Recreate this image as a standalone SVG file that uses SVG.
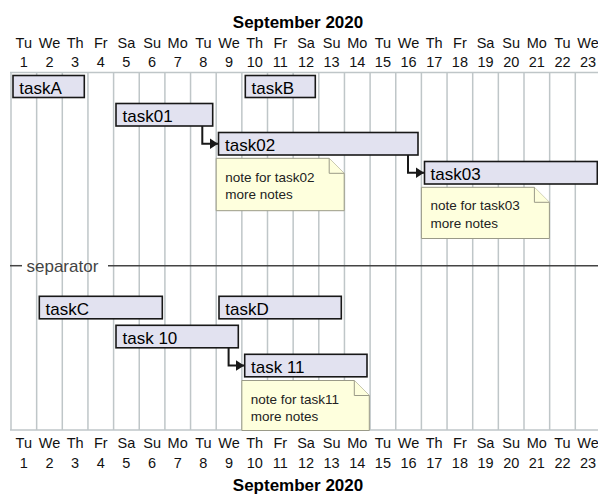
<svg xmlns="http://www.w3.org/2000/svg" width="598" height="495" viewBox="0 0 598 495">
  <style>
    .title { font-family: "Liberation Sans", Arial, sans-serif; font-size: 17px; font-weight: bold; fill: #000; text-anchor: middle; }
    .day { font-family: "Liberation Sans", Arial, sans-serif; font-size: 14.5px; fill: #111; text-anchor: middle; }
    .grid { stroke: #BFC6C8; stroke-width: 1.5; }
    .bar { fill: #E2E2F0; stroke: #181818; stroke-width: 1.6; }
    .label { font-family: "Liberation Sans", Arial, sans-serif; font-size: 17px; fill: #000; }
    .note { fill: #FEFFDD; stroke: #9A9A88; stroke-width: 1; }
    .notetext { font-family: "Liberation Sans", Arial, sans-serif; font-size: 13.5px; fill: #222; }
    .link { fill: none; stroke: #181818; stroke-width: 2; }
    .sep { stroke: #444; stroke-width: 1.5; }
    .septext { font-family: "Liberation Sans", Arial, sans-serif; font-size: 17px; fill: #444; }
  </style>
  <defs>
    <marker id="arrow" viewBox="0 0 10 10" refX="10" refY="5" markerUnits="userSpaceOnUse" markerWidth="8.5" markerHeight="11" preserveAspectRatio="none" orient="auto">
      <path d="M0,0 L10,5 L0,10 Z" fill="#181818"/>
    </marker>
  </defs>
  <rect width="598" height="495" fill="#fff"/>

  <!-- calendar header -->
  <g id="header-top">
    <text class="title" x="298" y="28">September 2020</text>
    <g class="day">
      <text x="23.8" y="48">Tu</text><text x="49.5" y="48">We</text><text x="75.1" y="48">Th</text><text x="100.8" y="48">Fr</text><text x="126.4" y="48">Sa</text><text x="152.1" y="48">Su</text><text x="177.7" y="48">Mo</text><text x="203.4" y="48">Tu</text><text x="229" y="48">We</text><text x="254.7" y="48">Th</text><text x="280.3" y="48">Fr</text><text x="306" y="48">Sa</text><text x="331.6" y="48">Su</text><text x="357.3" y="48">Mo</text><text x="382.9" y="48">Tu</text><text x="408.6" y="48">We</text><text x="434.2" y="48">Th</text><text x="459.9" y="48">Fr</text><text x="485.5" y="48">Sa</text><text x="511.2" y="48">Su</text><text x="536.8" y="48">Mo</text><text x="562.5" y="48">Tu</text><text x="588.1" y="48">We</text>
      <text x="23.8" y="66.5">1</text><text x="49.5" y="66.5">2</text><text x="75.1" y="66.5">3</text><text x="100.8" y="66.5">4</text><text x="126.4" y="66.5">5</text><text x="152.1" y="66.5">6</text><text x="177.7" y="66.5">7</text><text x="203.4" y="66.5">8</text><text x="229" y="66.5">9</text><text x="254.7" y="66.5">10</text><text x="280.3" y="66.5">11</text><text x="306" y="66.5">12</text><text x="331.6" y="66.5">13</text><text x="357.3" y="66.5">14</text><text x="382.9" y="66.5">15</text><text x="408.6" y="66.5">16</text><text x="434.2" y="66.5">17</text><text x="459.9" y="66.5">18</text><text x="485.5" y="66.5">19</text><text x="511.2" y="66.5">20</text><text x="536.8" y="66.5">21</text><text x="562.5" y="66.5">22</text><text x="588.1" y="66.5">23</text>
    </g>
  </g>

  <!-- day grid -->
  <g id="grid" class="grid">
    <line x1="10" y1="72.5" x2="598" y2="72.5"/>
    <line x1="10" y1="430" x2="598" y2="430"/>
    <line x1="11" y1="72.5" x2="11" y2="430"/>
    <line x1="36.65" y1="72.5" x2="36.65" y2="430"/>
    <line x1="62.3" y1="72.5" x2="62.3" y2="430"/>
    <line x1="87.95" y1="72.5" x2="87.95" y2="430"/>
    <line x1="113.6" y1="72.5" x2="113.6" y2="430"/>
    <line x1="139.25" y1="72.5" x2="139.25" y2="430"/>
    <line x1="164.9" y1="72.5" x2="164.9" y2="430"/>
    <line x1="190.55" y1="72.5" x2="190.55" y2="430"/>
    <line x1="216.2" y1="72.5" x2="216.2" y2="430"/>
    <line x1="241.85" y1="72.5" x2="241.85" y2="430"/>
    <line x1="267.5" y1="72.5" x2="267.5" y2="430"/>
    <line x1="293.15" y1="72.5" x2="293.15" y2="430"/>
    <line x1="318.8" y1="72.5" x2="318.8" y2="430"/>
    <line x1="344.45" y1="72.5" x2="344.45" y2="430"/>
    <line x1="370.1" y1="72.5" x2="370.1" y2="430"/>
    <line x1="395.75" y1="72.5" x2="395.75" y2="430"/>
    <line x1="421.4" y1="72.5" x2="421.4" y2="430"/>
    <line x1="447.05" y1="72.5" x2="447.05" y2="430"/>
    <line x1="472.7" y1="72.5" x2="472.7" y2="430"/>
    <line x1="498.35" y1="72.5" x2="498.35" y2="430"/>
    <line x1="524" y1="72.5" x2="524" y2="430"/>
    <line x1="549.65" y1="72.5" x2="549.65" y2="430"/>
    <line x1="575.3" y1="72.5" x2="575.3" y2="430"/>
  </g>

  <!-- separator -->
  <g id="separator">
    <line class="sep" x1="10" y1="265.7" x2="22" y2="265.7"/>
    <text class="septext" x="26.5" y="272">separator</text>
    <line class="sep" x1="108" y1="265.7" x2="598" y2="265.7"/>
  </g>

  <!-- tasks -->
  <g id="taskA"><rect class="bar" x="13" y="75.5" width="71.3" height="22"/><text class="label" x="19.3" y="93.5">taskA</text></g>
  <g id="taskB"><rect class="bar" x="245.3" y="75.5" width="70" height="22"/><text class="label" x="251.5" y="93.5">taskB</text></g>
  <g id="task01"><rect class="bar" x="116" y="103.5" width="96.7" height="22.5"/><text class="label" x="122.5" y="122">task01</text></g>
  <g id="task02"><rect class="bar" x="218.5" y="132.5" width="199.5" height="22.5"/><text class="label" x="225" y="151">task02</text></g>
  <g id="task03"><rect class="bar" x="424.5" y="161.5" width="172.8" height="22.5"/><text class="label" x="430.5" y="180">task03</text></g>
  <g id="taskC"><rect class="bar" x="39.3" y="296.3" width="123" height="22.5"/><text class="label" x="45.5" y="314.8">taskC</text></g>
  <g id="taskD"><rect class="bar" x="219" y="296.3" width="122.3" height="22.5"/><text class="label" x="225.3" y="314.8">taskD</text></g>
  <g id="task10"><rect class="bar" x="116" y="325.3" width="122.3" height="22.5"/><text class="label" x="122.5" y="343.8">task 10</text></g>
  <g id="task11"><rect class="bar" x="244.7" y="354.3" width="122.3" height="22.5"/><text class="label" x="251" y="372.8">task 11</text></g>

  <!-- notes -->
  <g id="note-task02">
    <path class="note" d="M216.2,158.3 L329.2,158.3 L344.2,173.3 L344.2,210.7 L216.2,210.7 Z"/>
    <path class="note" d="M329.2,158.3 L329.2,173.3 L344.2,173.3"/>
    <text class="notetext" x="225.2" y="181.5">note for task02</text>
    <text class="notetext" x="225.2" y="198.5">more notes</text>
  </g>
  <g id="note-task03">
    <path class="note" d="M421.4,187.3 L534.4,187.3 L549.4,202.3 L549.4,238.5 L421.4,238.5 Z"/>
    <path class="note" d="M534.4,187.3 L534.4,202.3 L549.4,202.3"/>
    <text class="notetext" x="430.4" y="210.3">note for task03</text>
    <text class="notetext" x="430.4" y="227.5">more notes</text>
  </g>
  <g id="note-task11">
    <path class="note" d="M241.85,380.5 L354.3,380.5 L369.3,395.5 L369.3,430.5 L241.85,430.5 Z"/>
    <path class="note" d="M354.3,380.5 L354.3,395.5 L369.3,395.5"/>
    <text class="notetext" x="250.8" y="403.5">note for task11</text>
    <text class="notetext" x="250.8" y="420.5">more notes</text>
  </g>

  <!-- dependency connectors -->
  <g id="connectors">
    <path class="link" marker-end="url(#arrow)" d="M202.3,126 L202.3,143.75 L218,143.75"/>
    <path class="link" marker-end="url(#arrow)" d="M408,155 L408,172.75 L424,172.75"/>
    <path class="link" marker-end="url(#arrow)" d="M228.6,347.8 L228.6,365.55 L244.2,365.55"/>
  </g>

  <!-- calendar footer -->
  <g id="header-bottom">
    <g class="day">
      <text x="23.8" y="448">Tu</text><text x="49.5" y="448">We</text><text x="75.1" y="448">Th</text><text x="100.8" y="448">Fr</text><text x="126.4" y="448">Sa</text><text x="152.1" y="448">Su</text><text x="177.7" y="448">Mo</text><text x="203.4" y="448">Tu</text><text x="229" y="448">We</text><text x="254.7" y="448">Th</text><text x="280.3" y="448">Fr</text><text x="306" y="448">Sa</text><text x="331.6" y="448">Su</text><text x="357.3" y="448">Mo</text><text x="382.9" y="448">Tu</text><text x="408.6" y="448">We</text><text x="434.2" y="448">Th</text><text x="459.9" y="448">Fr</text><text x="485.5" y="448">Sa</text><text x="511.2" y="448">Su</text><text x="536.8" y="448">Mo</text><text x="562.5" y="448">Tu</text><text x="588.1" y="448">We</text>
      <text x="23.8" y="468">1</text><text x="49.5" y="468">2</text><text x="75.1" y="468">3</text><text x="100.8" y="468">4</text><text x="126.4" y="468">5</text><text x="152.1" y="468">6</text><text x="177.7" y="468">7</text><text x="203.4" y="468">8</text><text x="229" y="468">9</text><text x="254.7" y="468">10</text><text x="280.3" y="468">11</text><text x="306" y="468">12</text><text x="331.6" y="468">13</text><text x="357.3" y="468">14</text><text x="382.9" y="468">15</text><text x="408.6" y="468">16</text><text x="434.2" y="468">17</text><text x="459.9" y="468">18</text><text x="485.5" y="468">19</text><text x="511.2" y="468">20</text><text x="536.8" y="468">21</text><text x="562.5" y="468">22</text><text x="588.1" y="468">23</text>
    </g>
    <text class="title" x="298" y="491">September 2020</text>
  </g>
</svg>
